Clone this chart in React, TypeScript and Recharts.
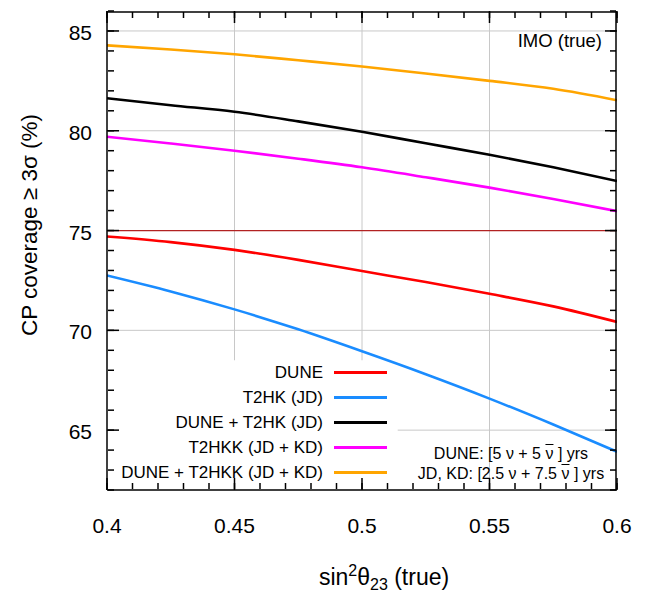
import { LineChart, Line, XAxis, YAxis, CartesianGrid, ReferenceLine, ReferenceArea, Legend, Label } from 'recharts'

const sin2 = [0.4, 0.425, 0.45, 0.475, 0.5, 0.525, 0.55, 0.575, 0.6]
const dune = [74.7, 74.42, 74.03, 73.53, 72.97, 72.42, 71.83, 71.2, 70.42]
const t2hk = [72.75, 71.95, 71.05, 70.05, 68.95, 67.8, 66.58, 65.28, 63.92]
const duneT2hk = [81.63, 81.28, 80.95, 80.47, 79.95, 79.37, 78.8, 78.17, 77.48]
const t2hkk = [79.7, 79.36, 79.0, 78.6, 78.17, 77.67, 77.15, 76.58, 75.97]
const duneT2hkk = [84.28, 84.07, 83.83, 83.53, 83.22, 82.87, 82.5, 82.1, 81.53]

const xTicks = [0.4, 0.41, 0.42, 0.43, 0.44, 0.45, 0.46, 0.47, 0.48, 0.49, 0.5, 0.51, 0.52, 0.53, 0.54, 0.55, 0.56, 0.57, 0.58, 0.59, 0.6]
const xMajor = [0.4, 0.45, 0.5, 0.55, 0.6]
const yTicks = [62, 63, 64, 65, 66, 67, 68, 69, 70, 71, 72, 73, 74, 75, 76, 77, 78, 79, 80, 81, 82, 83, 84, 85, 86]
const yMajor = [65, 70, 75, 80, 85]
const xGrid = [0.45, 0.5, 0.55]
const yGrid = [65, 70, 80, 85]

const series = [
  { key: 'dune', name: 'DUNE', color: '#ff0000', values: dune },
  { key: 't2hk', name: 'T2HK (JD)', color: '#1a8cff', values: t2hk },
  { key: 'duneT2hk', name: 'DUNE + T2HK (JD)', color: '#000000', values: duneT2hk },
  { key: 't2hkk', name: 'T2HKK (JD + KD)', color: '#ff00ff', values: t2hkk },
  { key: 'duneT2hkk', name: 'DUNE + T2HKK (JD + KD)', color: '#ffa500', values: duneT2hkk },
]
const seriesNames = series.map((s) => s.name)

const data = sin2.map((x, i) => {
  const row: Record<string, number> = { x }
  series.forEach((s) => (row[s.key] = s.values[i]))
  return row
})

const X_DOMAIN = [0.4, 0.6]
const Y_DOMAIN = [62, 86]

const font = 'Liberation Sans, Arial, Helvetica, sans-serif'
const isMajorX = (v: number) => Math.abs(v * 20 - Math.round(v * 20)) < 1e-6
const isMajorY = (v: number) => v % 5 === 0
const blank = () => ''
const tickStyle = { stroke: '#000', strokeWidth: 1.5 }

function BottomLabel({ x, y, payload }: any) {
  if (!isMajorX(payload.value)) return <g />
  return (
    <text x={x} y={y + 43} textAnchor="middle" fontSize={21} fontFamily={font} fill="#000">
      {String(Number(payload.value.toFixed(2)))}
    </text>
  )
}

function LeftLabel({ x, y, payload }: any) {
  if (!isMajorY(payload.value)) return <g />
  return (
    <text x={x - 15} y={y + 9} textAnchor="end" fontSize={21} fontFamily={font} fill="#000">
      {payload.value}
    </text>
  )
}

function KeyBox({ payload }: any) {
  const items = (payload || [])
    .filter((p: any) => seriesNames.includes(p.value))
    .sort((a: any, b: any) => seriesNames.indexOf(a.value) - seriesNames.indexOf(b.value))
  return (
    <div style={{ fontFamily: font, fontSize: 17, color: '#000' }}>
      {items.map((p: any) => (
        <div key={p.value} style={{ display: 'flex', justifyContent: 'flex-end', alignItems: 'center', height: 25 }}>
          <span style={{ whiteSpace: 'nowrap' }}>{p.value}</span>
          <span style={{ display: 'inline-block', width: 53, height: 3, marginLeft: 11, background: p.color }} />
        </div>
      ))}
    </div>
  )
}

// mirrored axes that only draw inward tick marks (and the frame)
function tickX(id: string, orientation: 'top' | 'bottom', ticks: number[], size: number, line: boolean) {
  return (
    <XAxis
      key={id}
      xAxisId={id}
      orientation={orientation}
      mirror
      type="number"
      dataKey="x"
      domain={X_DOMAIN}
      ticks={ticks}
      interval={0}
      tickSize={size}
      tickMargin={0}
      tickFormatter={blank}
      tickLine={tickStyle}
      stroke="#000"
      axisLine={line ? { stroke: '#000', strokeWidth: 1.5 } : false}
      height={1}
      allowDataOverflow
    />
  )
}

function tickY(id: string, orientation: 'left' | 'right', ticks: number[], size: number, line: boolean) {
  return (
    <YAxis
      key={id}
      yAxisId={id}
      orientation={orientation}
      mirror
      type="number"
      domain={Y_DOMAIN}
      ticks={ticks}
      interval={0}
      tickSize={size}
      tickMargin={0}
      tickFormatter={blank}
      tickLine={tickStyle}
      stroke="#000"
      axisLine={line ? { stroke: '#000', strokeWidth: 1.5 } : false}
      width={1}
      allowDataOverflow
    />
  )
}

const tickPairs = [
  ['bMinor', 'lMinor'],
  ['bMajor', 'lMajor'],
  ['tMinor', 'rMinor'],
  ['tMajor', 'rMajor'],
]

const nubar = <span style={{ textDecoration: 'overline' }}>ν</span>

export default function App() {
  return (
    <div style={{ position: 'absolute', left: 0, top: 0, width: 649, height: 594, background: '#fff', fontFamily: font }}>
      <LineChart width={649} height={594} data={data} margin={{ top: 11, right: 32, bottom: 44, left: 47 }}>
        <CartesianGrid horizontalValues={yGrid} verticalValues={xGrid} stroke="#c8c8c8" strokeWidth={1} />
        <ReferenceArea x1={0.4} x2={0.514} y1={62} y2={68.5} fill="#fff" fillOpacity={1} stroke="none" ifOverflow="hidden" />
        <ReferenceLine y={75} stroke="#b22222" strokeWidth={1.2} />
        <XAxis
          dataKey="x"
          type="number"
          domain={X_DOMAIN}
          ticks={xTicks}
          interval={0}
          tickSize={0}
          tickMargin={0}
          tick={<BottomLabel />}
          axisLine={{ stroke: '#000', strokeWidth: 1.5 }}
          tickLine={false}
          height={60}
          allowDataOverflow
        >
          <Label
            content={() => (
              <text x={384} y={585} textAnchor="middle" fontSize={23} fontFamily={font} fill="#000">
                sin<tspan dy={-9} fontSize={16}>2</tspan>
                <tspan dy={9} fontSize={23}>θ</tspan>
                <tspan dy={5} fontSize={16}>23</tspan>
                <tspan dy={-5} fontSize={23}> (true)</tspan>
              </text>
            )}
          />
        </XAxis>
        <YAxis
          type="number"
          domain={Y_DOMAIN}
          ticks={yTicks}
          interval={0}
          tickSize={0}
          tickMargin={0}
          tick={<LeftLabel />}
          axisLine={{ stroke: '#000', strokeWidth: 1.5 }}
          tickLine={false}
          width={60}
          allowDataOverflow
        >
          <Label
            content={() => (
              <text x={29} y={225} transform="rotate(-90 29 225)" textAnchor="middle" fontSize={22.5} fontFamily={font} fill="#000" dominantBaseline="central">
                CP coverage ≥ 3σ (%)
              </text>
            )}
          />
        </YAxis>
        {tickX('bMinor', 'bottom', xTicks, 6, false)}
        {tickX('bMajor', 'bottom', xMajor, 12, false)}
        {tickX('tMinor', 'top', xTicks, 6, true)}
        {tickX('tMajor', 'top', xMajor, 12, false)}
        {tickY('lMinor', 'left', yTicks, 6, false)}
        {tickY('lMajor', 'left', yMajor, 12, false)}
        {tickY('rMinor', 'right', yTicks, 6, true)}
        {tickY('rMajor', 'right', yMajor, 12, false)}
        {series.map((s) => (
          <Line
            key={s.key}
            type="monotone"
            dataKey={s.key}
            name={s.name}
            stroke={s.color}
            strokeWidth={2.6}
            dot={false}
            isAnimationActive={false}
          />
        ))}
        {/* invisible copies so the tick-only axes get drawn */}
        {tickPairs.map(([xa, ya]) => (
          <Line
            key={xa + ya}
            xAxisId={xa}
            yAxisId={ya}
            type="monotone"
            dataKey="duneT2hkk"
            name={'frame ' + xa}
            stroke="none"
            dot={false}
            activeDot={false}
            legendType="none"
            isAnimationActive={false}
          />
        ))}
        <Legend
          layout="vertical"
          align="center"
          verticalAlign="middle"
          content={<KeyBox />}
          wrapperStyle={{ left: 90, top: 360, width: 297, height: 125 }}
        />
      </LineChart>
      <div style={{ position: 'absolute', right: 47, top: 30, fontSize: 18.5, color: '#000' }}>IMO (true)</div>
      <div style={{ position: 'absolute', left: 400, width: 222, top: 444, fontSize: 16, lineHeight: '20px', textAlign: 'center', color: '#000' }}>
        <div>DUNE: [5 ν + 5 {nubar} ] yrs</div>
        <div>JD, KD: [2.5 ν + 7.5 {nubar} ] yrs</div>
      </div>
    </div>
  )
}
